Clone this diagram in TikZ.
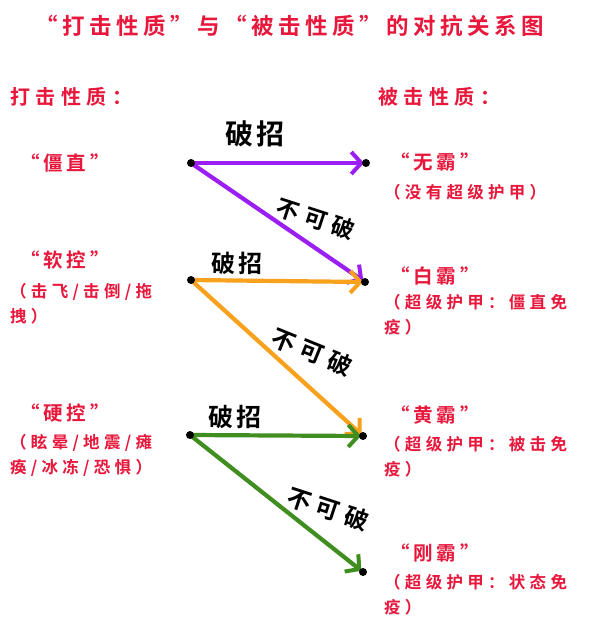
\documentclass[tikz,border=0pt]{standalone}
\usepackage{fontspec}
\newfontfamily\cjk{Noto Sans CJK SC}[BoldFont={Noto Sans CJK SC Bold}]
\usetikzlibrary{arrows.meta}
\definecolor{redtxt}{HTML}{E8173C}
\definecolor{cpurple}{HTML}{9B1EF2}
\definecolor{corange}{HTML}{F8A11C}
\definecolor{cgreen}{HTML}{3F8E1F}
\tikzset{
  dot/.style={circle,fill=black,inner sep=0pt,minimum size=8pt},
  titletxt/.style={text=redtxt,inner sep=0pt,font={\cjk\bfseries\addfontfeature{LetterSpace=20}\fontsize{22.5}{26}\selectfont}},
  headtxt/.style={text=redtxt,inner sep=0pt,anchor=west,font={\cjk\bfseries\addfontfeature{LetterSpace=28}\fontsize{20}{24}\selectfont}},
  labtxt/.style={text=redtxt,inner sep=0pt,anchor=west,font={\cjk\bfseries\addfontfeature{LetterSpace=20}\fontsize{19.5}{24}\selectfont}},
  desctxt/.style={text=redtxt,inner sep=0pt,anchor=west,align=left,font={\cjk\bfseries\addfontfeature{LetterSpace=26}\fontsize{16.5}{25}\selectfont}},
  blk/.style={text=black,inner sep=0pt,font={\cjk\bfseries\addfontfeature{LetterSpace=10}\fontsize{#1}{#1}\selectfont}},
  blkrot/.style={text=black,inner sep=0pt,font={\cjk\bfseries\addfontfeature{LetterSpace=26}\fontsize{#1}{#1}\selectfont}},
  arr/.style={draw=#1,line width=4.2pt,-{Straight Barb[length=10pt,width=22pt,line width=4pt]},shorten >=2pt},
}
\begin{document}
\begin{tikzpicture}[x=1pt,y=-1pt]
\useasboundingbox[fill=white] (0,0) rectangle (600,640);
% title and headers
\node[titletxt] (title) at (290,26) {“打击性质”与“被击性质”的对抗关系图};
\node[headtxt] (hl) at (10,97) {打击性质：};
\node[headtxt] (hr) at (378,97) {被击性质：};
% left labels
\node[labtxt] (l1) at (20,163) {“僵直”};
\node[labtxt] (l2) at (20,260) {“软控”};
\node[desctxt] (l2d) at (10,304) {（击飞/击倒/拖\\拽）};
\node[labtxt] (l3) at (20,413) {“硬控”};
\node[desctxt] (l3d) at (10,455) {（眩晕/地震/瘫\\痪/冰冻/恐惧）};
% right labels
\node[labtxt] (r1) at (390,162) {“无霸”};
\node[desctxt] (r1d) at (384,192) {（没有超级护甲）};
\node[labtxt] (r2) at (390,276) {“白霸”};
\node[desctxt] (r2d) at (384,315) {（超级护甲：僵直免\\疫）};
\node[labtxt] (r3) at (390,415) {“黄霸”};
\node[desctxt] (r3d) at (384,457) {（超级护甲：被击免\\疫）};
\node[labtxt] (r4) at (390,553) {“刚霸”};
\node[desctxt] (r4d) at (384,595) {（超级护甲：状态免\\疫）};
% dots
\coordinate (L1) at (191,163);
\coordinate (L2) at (191,280);
\coordinate (L3) at (190,435);
\coordinate (R1) at (366,163);
\coordinate (R2) at (365,282);
\coordinate (R3) at (363,436);
\coordinate (R4) at (363,572);
% arrows
\draw[arr=cpurple] (L1) -- (R1);
\draw[arr=cpurple] (L1) -- (R2);
\draw[arr=corange] (L2) -- (R2);
\draw[arr=corange] (L2) -- (R3);
\draw[arr=cgreen] (L3) -- (R3);
\draw[arr=cgreen] (L3) -- (R4);
\foreach \p in {L1,L2,L3,R1,R2,R3,R4} \node[dot] (d\p) at (\p) {};
% black labels
\node[blk=28] (b1) at (255,134) {破招};
\node[blk=24] (b2) at (237,263) {破招};
\node[blk=25] (b3) at (235,417) {破招};
\node[blkrot=23,rotate=-18] (n1) at (316,219) {不可破};
\node[blkrot=24,rotate=-22] (n2) at (312,352) {不可破};
\node[blkrot=24,rotate=-18] (n3) at (328,509) {不可破};
\end{tikzpicture}
\end{document}
